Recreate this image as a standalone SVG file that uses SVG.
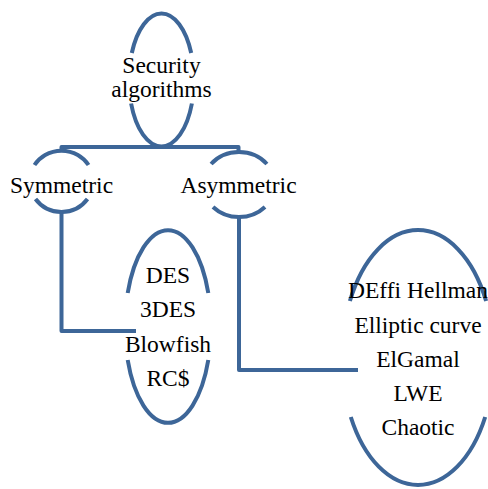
<svg xmlns="http://www.w3.org/2000/svg" width="488" height="489" viewBox="0 0 488 489">
<style>
.arc{fill:none;stroke:#3D6698;stroke-width:4;stroke-linecap:butt}
.con{fill:none;stroke:#3D6698;stroke-width:4;stroke-linejoin:round}
</style>
<rect width="488" height="489" fill="#fff"/>
<g id="connectors">
<path class="con" d="M61.5 151 V147 H238.5 V152"/>
<path class="con" d="M61.5 212 V331 H136"/>
<path class="con" d="M239 217 V370 H358"/>
</g>
<g id="security">
<path class="arc" d="M131.8 53 A32.5 66.5 0 0 1 191.2 53"/>
<path class="arc" d="M131.1 103.5 A32.5 66.5 0 0 0 191.9 103.5"/>
<text x="161.5" y="73" font-family="Liberation Serif, serif" font-size="23.5" text-anchor="middle">Security</text>
<text x="161.5" y="97" font-family="Liberation Serif, serif" font-size="23.5" text-anchor="middle">algorithms</text>
</g>
<g id="symmetric">
<path class="arc" d="M34.5 165 A32 31 0 0 1 88.5 165"/>
<path class="arc" d="M35.5 199 A32 31 0 0 0 87.5 199"/>
<text x="61.5" y="193" font-family="Liberation Serif, serif" font-size="23.5" text-anchor="middle">Symmetric</text>
</g>
<g id="asymmetric">
<path class="arc" d="M211.1 164 A36 32.5 0 0 1 266.9 164"/>
<path class="arc" d="M213 207 A36 32.5 0 0 0 265 207"/>
<text x="238.5" y="193" font-family="Liberation Serif, serif" font-size="23.5" text-anchor="middle">Asymmetric</text>
</g>
<g id="symmetric-list">
<path class="arc" d="M127.7 293 A43 96.5 0 0 1 208.3 293"/>
<path class="arc" d="M127.7 360 A43 96.5 0 0 0 208.3 360"/>
<text x="168" y="283" font-family="Liberation Serif, serif" font-size="23.5" text-anchor="middle">DES</text>
<text x="168" y="317" font-family="Liberation Serif, serif" font-size="23.5" text-anchor="middle">3DES</text>
<text x="168" y="351.5" font-family="Liberation Serif, serif" font-size="23.5" text-anchor="middle">Blowfish</text>
<text x="168" y="385.5" font-family="Liberation Serif, serif" font-size="23.5" text-anchor="middle">RC$</text>
</g>
<g id="asymmetric-list">
<path class="arc" d="M349.9 301 A76 127.5 0 0 1 486.1 301"/>
<path class="arc" d="M350.8 417 A76 127.5 0 0 0 485.2 417"/>
<text x="418" y="298" font-family="Liberation Serif, serif" font-size="23.5" text-anchor="middle">DEffi Hellman</text>
<text x="418" y="332.5" font-family="Liberation Serif, serif" font-size="23.5" text-anchor="middle">Elliptic curve</text>
<text x="418" y="367" font-family="Liberation Serif, serif" font-size="23.5" text-anchor="middle">ElGamal</text>
<text x="418" y="401" font-family="Liberation Serif, serif" font-size="23.5" text-anchor="middle">LWE</text>
<text x="418" y="435" font-family="Liberation Serif, serif" font-size="23.5" text-anchor="middle">Chaotic</text>
</g>
</svg>
